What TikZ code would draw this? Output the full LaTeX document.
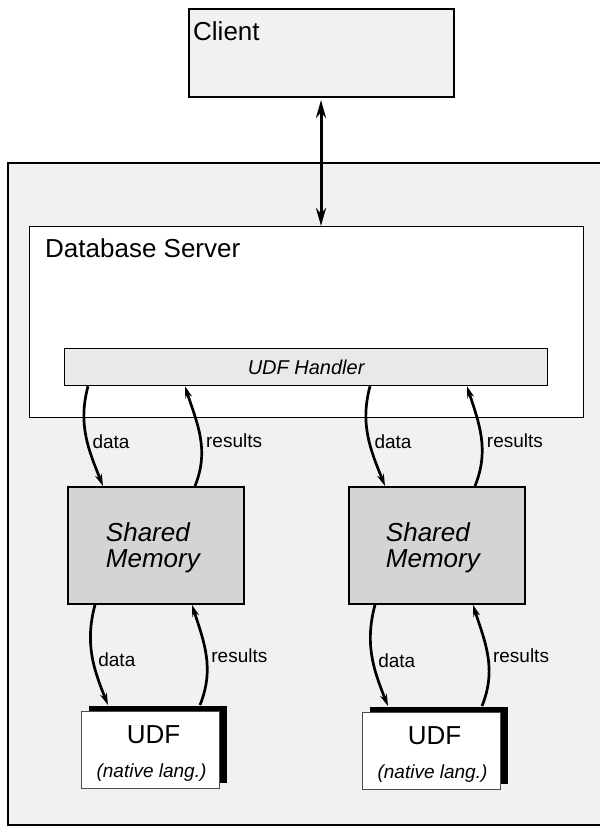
\documentclass[tikz,border=0pt]{standalone}
\usepackage{fontspec}
\setmainfont{Liberation Sans}
\usepackage{tikz}
\usetikzlibrary{positioning,arrows.meta,shadows}

\definecolor{panelgray}{HTML}{F1F1F1}
\definecolor{handlergray}{HTML}{E9E9E9}
\definecolor{memgray}{HTML}{D4D4D4}

\tikzset{
    box/.style={draw=black, anchor=north west, inner sep=0pt},
    bigtxt/.style={font=\fontsize{26}{30}\selectfont, inner sep=0pt},
    flow/.style={line width=2.7pt, -{Stealth[length=12pt,width=7pt]}},
    lbl/.style={font=\fontsize{19}{22}\selectfont, inner sep=4pt}
}

\begin{document}
\begin{tikzpicture}[x=1pt, y=-1pt]
                \useasboundingbox (0,0) rectangle (600,827);

                % outer machine, cut off at the right
                \fill[panelgray] (8,163) rectangle (600,825);
                \draw[line width=2pt] (600,163) -- (8,163) -- (8,825) -- (600,825);

                \node[box, fill=panelgray, line width=2pt,
                      minimum width=265pt, minimum height=88pt] (client) at (188,8) {};
                \node[bigtxt, anchor=base west] (clienttxt) at (193,40) {Client};

                \node[box, fill=white, line width=1pt,
                      minimum width=554pt, minimum height=191pt] (server) at (29,226) {};
                \node[bigtxt, anchor=base west] (servertxt) at (45,257) {Database Server};

                \node[box, fill=handlergray, line width=1.2pt,
                      minimum width=483pt, minimum height=37pt] (handler) at (64,348) {};
                \node[font=\fontsize{20}{24}\selectfont\itshape] (handlertxt)
                      at (handler.center) {UDF Handler};

                \node[box, fill=memgray, line width=1.8pt,
                      minimum width=176pt, minimum height=117pt] (shm1) at (67,486) {};
                \node[box, fill=memgray, line width=1.8pt,
                      minimum width=176pt, minimum height=117pt] (shm2) at (348,486) {};
                \node[bigtxt, align=left, font=\fontsize{26}{26}\selectfont\itshape]
                      (shm1txt) at ([xshift=-3pt,yshift=-2pt]shm1.center) {Shared\\Memory};
                \node[bigtxt, align=left, font=\fontsize{26}{26}\selectfont\itshape]
                      (shm2txt) at ([xshift=-4pt,yshift=-2pt]shm2.center) {Shared\\Memory};

                \node[box, fill=white, draw=black!70, line width=1pt,
                      drop shadow={shadow xshift=7pt, shadow yshift=6pt, opacity=1, fill=black},
                      minimum width=138pt, minimum height=77pt] (udf1) at (81,711) {};
                \node[box, fill=white, draw=black!70, line width=1pt,
                      drop shadow={shadow xshift=7pt, shadow yshift=6pt, opacity=1, fill=black},
                      minimum width=138pt, minimum height=77pt] (udf2) at (362,712) {};
                \node[bigtxt, anchor=base, xshift=3pt] (udf1txt) at (udf1.north |- 0,743) {UDF};
                \node[font=\fontsize{19}{22}\selectfont\itshape, anchor=base, xshift=1pt] (udf1sub)
                      at (udf1.north |- 0,777) {(native lang.)};
                \node[bigtxt, anchor=base, xshift=3pt] (udf2txt) at (udf2.north |- 0,744) {UDF};
                \node[font=\fontsize{19}{22}\selectfont\itshape, anchor=base, xshift=1pt] (udf2sub)
                      at (udf2.north |- 0,778) {(native lang.)};

                % client <-> server
                \draw[line width=3pt, {Stealth[length=18pt,width=10pt]}-{Stealth[length=18pt,width=10pt]}]
                      ([xshift=133pt,yshift=-2pt]client.south west) -- ([xshift=292pt]server.north west);

                % server <-> shared memory
                \path[flow]
                ([xshift=24pt]handler.south west) edge[out=-105, in=112]
                      node[lbl, right, pos=.55] {data} ([xshift=36pt]shm1.north west)
                ([xshift=128pt]shm1.north west) edge[out=68, in=-72]
                      node[lbl, right, pos=.45] {results} ([xshift=121pt]handler.south west)
                ([xshift=306pt]handler.south west) edge[out=-105, in=112]
                      node[lbl, right, pos=.55] {data} ([xshift=37pt]shm2.north west)
                ([xshift=127pt]shm2.north west) edge[out=68, in=-72]
                      node[lbl, right, pos=.45] {results} ([xshift=403pt]handler.south west);

                % shared memory <-> udf
                \path[flow]
                ([xshift=28pt]shm1.south west) edge[out=-105, in=112]
                      node[lbl, right, pos=.55] {data} ([xshift=27pt,yshift=6pt]udf1.north west)
                ([xshift=119pt,yshift=6pt]udf1.north west) edge[out=68, in=-72]
                      node[lbl, right, pos=.5] {results} ([xshift=125pt]shm1.south west)
                ([xshift=27pt]shm2.south west) edge[out=-105, in=112]
                      node[lbl, right, pos=.55] {data} ([xshift=26pt,yshift=6pt]udf2.north west)
                ([xshift=120pt,yshift=6pt]udf2.north west) edge[out=68, in=-72]
                      node[lbl, right, pos=.5] {results} ([xshift=125pt]shm2.south west);
            \end{tikzpicture}
\end{document}
